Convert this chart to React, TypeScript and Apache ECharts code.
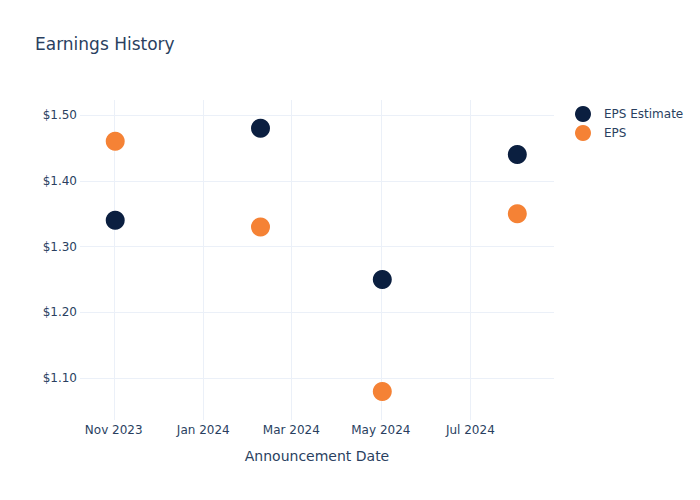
import React, { useEffect, useRef } from "react";
import * as echarts from "echarts";

const announcementDates = ["2023-11-02", "2024-02-09", "2024-05-02", "2024-08-02"];
const epsEstimate = [1.34, 1.48, 1.25, 1.44];
const epsActual = [1.46, 1.33, 1.08, 1.35];
const xTickDates = ["2023-11-01", "2024-01-01", "2024-03-01", "2024-05-01", "2024-07-01"];
const yTickValues = [1.1, 1.2, 1.3, 1.4, 1.5];
const monthNames = ["Jan", "Feb", "Mar", "Apr", "May", "Jun", "Jul", "Aug", "Sep", "Oct", "Nov", "Dec"];

const ts = (d: string) => {
  const [y, m, dd] = d.split("-").map(Number);
  return Date.UTC(y, m - 1, dd);
};

export default function App() {
  const ref = useRef<HTMLDivElement>(null);
  useEffect(() => {
    if (!ref.current) return;
    const chart = echarts.init(ref.current, undefined, { renderer: "svg" });
    const font = "DejaVu Sans";
    const textColor = "#2a3f5f";
    const gridColor = "#ebf0f8";
    chart.setOption({
      animation: false,
      textStyle: { fontFamily: font, color: textColor },
      title: {
        text: "Earnings History",
        left: 35,
        top: 35,
        padding: 0,
        textStyle: { fontFamily: font, fontSize: 17, fontWeight: "normal", color: textColor },
      },
      legend: {
        orient: "vertical",
        left: 570,
        top: 101,
        itemWidth: 16,
        itemHeight: 16,
        itemGap: 3,
        icon: "circle",
        textStyle: { fontFamily: font, fontSize: 12, color: textColor, padding: [0, 0, 0, 8] },
        data: ["EPS Estimate", "EPS"],
      },
      grid: { left: 80, right: 146, top: 100, bottom: 80, containLabel: false },
      xAxis: {
        type: "value",
        min: ts("2023-10-09"),
        max: ts("2024-08-27"),
        name: "Announcement Date",
        nameLocation: "middle",
        nameGap: 29,
        nameTextStyle: { fontFamily: font, fontSize: 14, color: textColor, verticalAlign: "top" },
        axisLine: { show: false },
        axisTick: { show: false, customValues: xTickDates.map(ts) },
        axisLabel: {
          customValues: xTickDates.map(ts),
          fontFamily: font,
          fontSize: 12,
          color: textColor,
          margin: 4,
          formatter: (v: number) => {
            const d = new Date(v);
            return monthNames[d.getUTCMonth()] + " " + d.getUTCFullYear();
          },
        },
        splitLine: { show: true, lineStyle: { color: gridColor, width: 1 } },
      },
      yAxis: {
        type: "value",
        min: 1.0367,
        max: 1.5228,
        axisLine: { show: false },
        axisTick: { show: false, customValues: yTickValues },
        axisLabel: {
          customValues: yTickValues,
          fontFamily: font,
          fontSize: 12,
          color: textColor,
          margin: 3,
          formatter: (v: number) => "$" + v.toFixed(2),
        },
        splitLine: { show: true, lineStyle: { color: gridColor, width: 1 } },
      },
      series: [
        {
          name: "EPS Estimate",
          type: "scatter",
          symbol: "circle",
          symbolSize: 19,
          itemStyle: { color: "#0b1f40", opacity: 1 },
          data: announcementDates.map((d, i) => [ts(d), epsEstimate[i]]),
        },
        {
          name: "EPS",
          type: "scatter",
          symbol: "circle",
          symbolSize: 19,
          itemStyle: { color: "#f58235", opacity: 1 },
          data: announcementDates.map((d, i) => [ts(d), epsActual[i]]),
        },
      ],
    });
    return () => chart.dispose();
  }, []);
  return <div ref={ref} style={{ width: 700, height: 500, position: "absolute", left: 0, top: 0 }} />;
}
